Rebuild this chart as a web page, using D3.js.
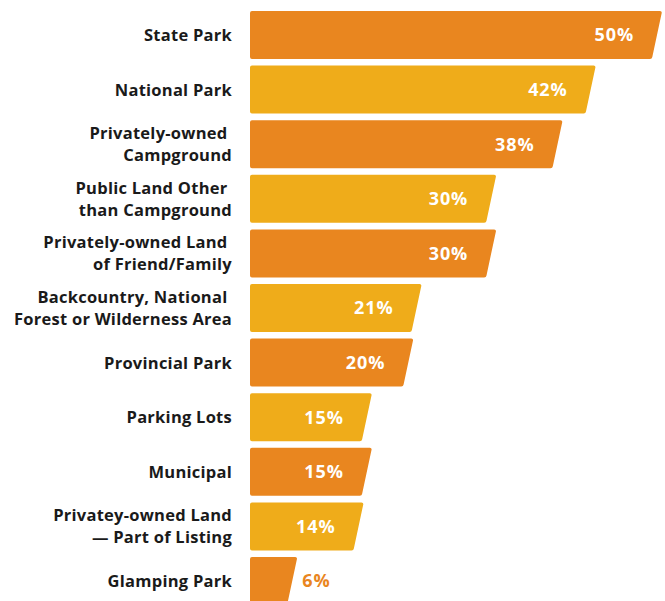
<!DOCTYPE html>
<html><head><meta charset="utf-8">
<script src="https://cdn.jsdelivr.net/npm/d3@7"></script>
<style>
body{margin:0;background:#fff;}
svg{display:block;}
text{white-space:pre;}
</style></head>
<body><svg id="c" width="665" height="601"></svg>
<script>
const categories = [
  ["State Park"],
  ["National Park"],
  ["Privately-owned ", "Campground"],
  ["Public Land Other ", "than Campground"],
  ["Privately-owned Land ", "of Friend/Family"],
  ["Backcountry, National ", "Forest or Wilderness Area"],
  ["Provincial Park"],
  ["Parking Lots"],
  ["Municipal"],
  ["Privatey-owned Land", "— Part of Listing"],
  ["Glamping Park"]
];
const values = [50, 42, 38, 30, 30, 21, 20, 15, 15, 14, 6];
const valueLabels = ["50%", "42%", "38%", "30%", "30%", "21%", "20%", "15%", "15%", "14%", "6%"];
const colors = ["#E9861F", "#EFAC1A"];

const svg = d3.select("#c");
const x = d3.scaleLinear().domain([0, 50]).range([247.5, 662]);
const y = d3.scaleBand().domain(d3.range(values.length)).range([11, 605]).paddingInner(0.121).paddingOuter(0);
const left = 250, slant = 10, r = 2;

const g = svg.append("g");
values.forEach((v, i) => {
  const y0 = y(i), h = y.bandwidth(), x1 = x(v), x2 = x1 - slant;
  const p = d3.path();
  p.moveTo(left + r, y0);
  p.lineTo(x1 - r, y0);
  p.quadraticCurveTo(x1, y0, x1 - 0.3, y0 + r);
  p.lineTo(x2 + 0.3, y0 + h - r);
  p.quadraticCurveTo(x2, y0 + h, x2 - r, y0 + h);
  p.lineTo(left + r, y0 + h);
  p.quadraticCurveTo(left, y0 + h, left, y0 + h - r);
  p.lineTo(left, y0 + r);
  p.quadraticCurveTo(left, y0, left + r, y0);
  p.closePath();
  const col = colors[i % 2];
  g.append("path").attr("d", p.toString()).attr("fill", col);

  const cy = y0 + h / 2;
  const inside = v >= 10;
  g.append("text")
    .attr("x", inside ? x1 - 28 : x1 + 5)
    .attr("y", cy)
    .attr("dy", "0.36em")
    .attr("text-anchor", inside ? "end" : "start")
    .attr("font-family", "'Open Sans', sans-serif")
    .attr("font-weight", 700)
    .attr("font-size", 18)
    .attr("letter-spacing", 0.9)
    .attr("fill", inside ? "#ffffff" : col)
    .text(valueLabels[i]);

  const lines = categories[i];
  const t = g.append("text")
    .attr("text-anchor", "end")
    .attr("font-family", "'Open Sans', sans-serif")
    .attr("font-weight", 700)
    .attr("font-size", 16.5)
    .attr("letter-spacing", 0.25)
    .attr("fill", "#1a1a1a");
  lines.forEach((ln, k) => {
    t.append("tspan")
      .attr("x", 232)
      .attr("y", cy + (k - (lines.length - 1) / 2) * 22)
      .attr("dy", "0.36em")
      .text(ln);
  });
});
</script></body></html>
